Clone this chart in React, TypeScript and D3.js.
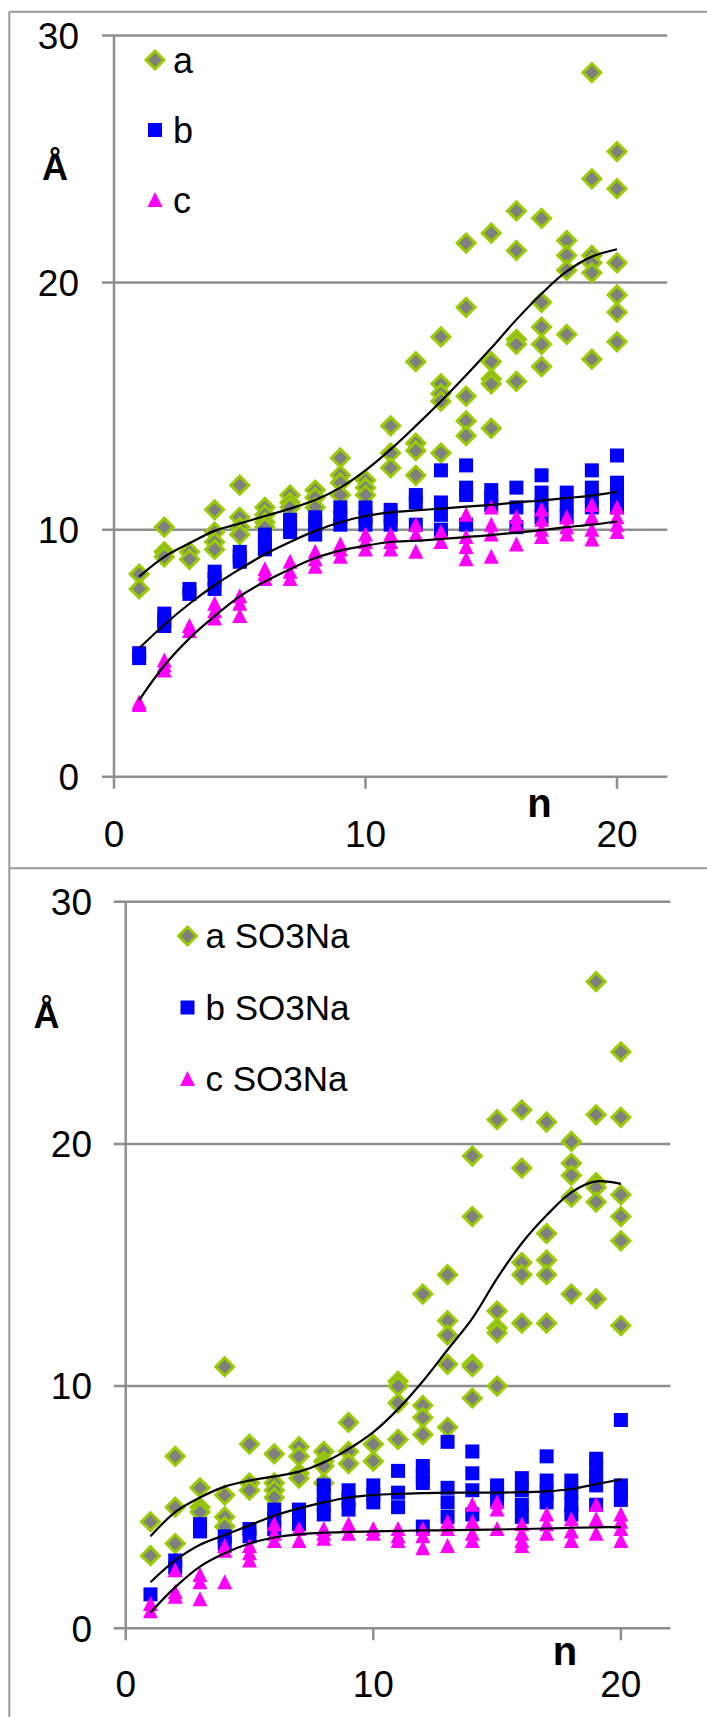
import React from 'react';
import * as d3 from 'd3';

// n = 1..20 (chain length)
const nValues = [1, 2, 3, 4, 5, 6, 7, 8, 9, 10, 11, 12, 13, 14, 15, 16, 17, 18, 19, 20];
const yTicks = [0, 10, 20, 30];
const xTicks = [0, 10, 20];

// top panel: a, b, c (several values per n)
const topA = [
  [8.2, 7.6], [10.1, 9.1, 8.9], [9.1, 8.8], [10.8, 9.9, 9.5, 9.2], [11.8, 10.5, 10.1, 9.8],
  [10.9, 10.6, 10.3, 10.1], [11.4, 11.1, 10.9], [11.6, 11.3, 10.9], [12.9, 12.2, 11.9, 11.4], [12.0, 11.7, 11.4],
  [14.2, 13.1, 12.5], [16.8, 13.5, 13.2, 12.2], [17.8, 15.9, 15.5, 15.2, 13.1], [21.6, 19.0, 15.4, 14.4, 13.8], [22.0, 16.8, 16.1, 15.9, 14.1],
  [22.9, 21.3, 17.7, 17.5, 16.0], [22.6, 19.2, 18.2, 17.5, 16.6], [21.7, 21.1, 20.5, 17.9], [28.5, 24.2, 21.1, 20.8, 20.4, 16.9], [25.3, 23.8, 20.8, 19.5, 18.8, 17.6],
];
const topB = [
  [5.0, 4.8], [6.6, 6.3, 6.1], [7.6, 7.4], [8.3, 8.0, 7.6], [9.1, 8.9, 8.7],
  [9.8, 9.5, 9.2], [10.4, 10.1, 9.9], [10.5, 10.2, 9.8], [10.9, 10.5, 10.2], [10.9, 10.5, 10.2],
  [10.8, 10.5, 10.2], [11.4, 11.1, 10.2], [12.4, 11.1, 10.6, 10.0], [12.6, 11.7, 11.4, 10.2], [11.6, 11.3, 11.0],
  [11.7, 10.9, 10.1], [12.2, 11.5, 11.0, 10.5], [11.5, 11.0, 10.5], [12.4, 11.7, 11.3, 10.9], [13.0, 11.9, 11.4, 10.9],
];
const topC = [
  [3.0, 2.9], [4.7, 4.5, 4.3], [6.1, 5.9], [7.0, 6.7, 6.4], [7.3, 7.0, 6.5],
  [8.4, 8.2, 8.0], [8.7, 8.3, 8.0], [9.1, 8.8, 8.5], [9.4, 9.2, 8.9], [9.8, 9.5, 9.2],
  [9.8, 9.5, 9.2], [10.2, 9.8, 9.1], [9.9, 9.5], [10.6, 9.7, 9.3, 8.8], [10.9, 10.2, 9.8, 8.9],
  [10.5, 10.2, 9.4], [10.8, 10.4, 10.0, 9.7], [10.5, 10.1, 9.8], [11.0, 10.5, 10.0, 9.6], [10.9, 10.5, 10.2, 9.9],
];
const topTrendA = [8.1, 8.9, 9.45, 9.95, 10.25, 10.55, 10.85, 11.2, 11.7, 12.4, 13.25, 14.2, 15.2, 16.25, 17.35, 18.5, 19.55, 20.45, 21.05, 21.35];
const topTrendB = [5.2, 6.15, 7.0, 7.75, 8.4, 9.0, 9.5, 9.95, 10.3, 10.55, 10.7, 10.78, 10.85, 10.93, 11.0, 11.1, 11.18, 11.28, 11.38, 11.53];
const topTrendC = [3.1, 4.5, 5.6, 6.5, 7.3, 7.9, 8.4, 8.85, 9.15, 9.35, 9.5, 9.55, 9.62, 9.7, 9.78, 9.88, 9.98, 10.1, 10.2, 10.33];

// bottom panel: a, b, c SO3Na
const botA = [
  [4.4, 3.0], [7.1, 5.0, 3.5], [5.8, 5.0, 4.8], [10.8, 5.5, 4.6, 4.2], [7.6, 6.0, 5.7],
  [7.2, 6.0, 5.7, 5.4], [7.5, 7.1, 6.4, 6.2], [7.3, 6.9, 6.7, 6.0], [8.5, 7.3, 6.8], [7.6, 6.9],
  [10.2, 10.0, 9.3, 7.8], [13.8, 9.2, 8.7, 8.0], [14.6, 12.7, 12.1, 10.9, 8.3], [19.5, 17.0, 10.9, 10.8, 9.5], [21.0, 13.1, 12.4, 12.2, 10.0],
  [21.4, 19.0, 15.1, 14.6, 12.6], [20.9, 16.3, 15.2, 14.6, 12.6], [20.1, 19.2, 18.7, 17.8, 13.8], [26.7, 21.2, 18.4, 18.2, 17.6, 13.6], [23.8, 21.1, 17.9, 17.0, 16.0, 12.5],
];
const botB = [
  [1.4], [2.8, 2.5], [4.3, 4.0], [3.8, 3.5], [4.1, 3.8],
  [4.9, 4.5, 4.1], [4.9, 4.6, 4.3], [5.9, 5.5, 5.1, 4.7], [5.7, 5.3, 4.9], [5.9, 5.5, 5.2],
  [6.5, 5.6, 5.0], [6.7, 6.3, 6.0, 4.2], [7.7, 5.8, 5.2, 4.6], [7.3, 6.4, 5.7, 4.7], [5.9, 5.6, 5.3],
  [6.2, 5.7, 5.1, 4.6], [7.1, 6.1, 5.6, 5.2], [6.1, 5.6, 5.1, 4.7], [7.0, 6.6, 6.2, 5.9, 5.1], [8.6, 5.9, 5.6, 5.3],
];
const botC = [
  [1.0, 0.7], [2.4, 1.5, 1.3], [2.2, 1.9, 1.2], [3.4, 3.2, 1.9], [3.4, 3.1, 2.8],
  [4.3, 3.9, 3.6], [4.1, 3.6], [4.1, 3.9, 3.7], [4.3, 3.9], [4.1, 3.9],
  [4.1, 3.8, 3.6], [4.1, 3.8, 3.3], [4.4, 4.1, 3.4], [5.1, 4.4, 3.9, 3.6], [5.2, 4.9, 4.1],
  [4.3, 3.9, 3.6, 3.4], [4.7, 4.3, 3.9], [4.5, 4.0, 3.6], [5.1, 4.5, 3.9], [4.7, 4.4, 4.1, 3.6],
];
const botTrendA = [3.8, 4.8, 5.4, 5.85, 6.1, 6.27, 6.47, 6.85, 7.4, 8.1, 9.05, 10.2, 11.5, 12.8, 14.45, 15.9, 17.05, 18.0, 18.45, 18.35];
const botTrendB = [1.9, 2.8, 3.45, 3.85, 4.25, 4.65, 4.95, 5.2, 5.4, 5.5, 5.55, 5.58, 5.6, 5.6, 5.6, 5.62, 5.65, 5.75, 5.95, 6.15];
const botTrendC = [0.65, 1.7, 2.55, 3.1, 3.5, 3.75, 3.88, 3.95, 3.98, 4.0, 4.02, 4.04, 4.05, 4.06, 4.08, 4.1, 4.12, 4.15, 4.17, 4.18];

const topLegend = ['a', 'b', 'c'];
const botLegend = ['a SO3Na', 'b SO3Na', 'c SO3Na'];

const FONT = 'Liberation Sans, Arial, sans-serif';
const GRID = '#8e8e8e';

// marker shapes centred on 0,0
const diamondPath = 'M0,-9L9,0L0,9L-9,0Z';
const squarePath = 'M-7,-7H7V7H-7Z';
const trianglePath = 'M0,-8L7.5,7H-7.5Z';

const Marker = ({ kind, x, y }: { kind: number; x: number; y: number }) => {
  if (kind === 0)
    return <path d={diamondPath} transform={`translate(${x},${y})`} fill="#808080" stroke="#99cc00" strokeWidth={3} />;
  if (kind === 1) return <path d={squarePath} transform={`translate(${x},${y})`} fill="#0000ff" />;
  return <path d={trianglePath} transform={`translate(${x},${y})`} fill="#ff00ff" />;
};

type PanelProps = {
  series: number[][][];
  trends: number[][];
  legend: string[];
  left: number; right: number; top: number; bottom: number;
  yLabelX: number; xLabelY: number;
  unitX: number; unitY: number;
  nX: number; nY: number;
  legX: number; legY: number; legStep: number; legFont: number;
};

const Panel = (p: PanelProps) => {
  const x = d3.scaleLinear().domain([0, 22]).range([p.left, p.right]);
  const y = d3.scaleLinear().domain([0, 30]).range([p.bottom, p.top]);
  const line = d3.line<number>()
    .x((_, i) => x(nValues[i]))
    .y(d => y(d))
    .curve(d3.curveCatmullRom.alpha(0.5));

  return (
    <g fontFamily={FONT}>
      {yTicks.map(t => (
        <g key={'y' + t}>
          <line x1={p.left - 12} x2={p.right} y1={y(t)} y2={y(t)} stroke={GRID} strokeWidth={2.5} />
          <text x={p.yLabelX} y={y(t)} dy="0.36em" textAnchor="end" fontSize={37}>{t}</text>
        </g>
      ))}
      <line x1={p.left} x2={p.left} y1={p.top} y2={p.bottom} stroke={GRID} strokeWidth={2.5} />
      {xTicks.map(t => (
        <g key={'x' + t}>
          <line x1={x(t)} x2={x(t)} y1={p.bottom} y2={p.bottom + 12} stroke={GRID} strokeWidth={2.5} />
          <text x={x(t)} y={p.xLabelY} textAnchor="middle" fontSize={37}>{t}</text>
        </g>
      ))}
      {p.series.map((s, k) => (
        <g key={'s' + k}>
          {s.flatMap((vals, i) => vals.map((v, j) => (
            <Marker key={i + '-' + j} kind={k} x={x(nValues[i])} y={y(v)} />
          )))}
        </g>
      ))}
      {p.trends.map((tr, k) => (
        <path key={'t' + k} d={line(tr) || ''} fill="none" stroke="#000" strokeWidth={2.2} />
      ))}
      {p.legend.map((lab, k) => (
        <g key={'l' + k}>
          <Marker kind={k} x={p.legX} y={p.legY + k * p.legStep} />
          <text x={p.legX + 18} y={p.legY + k * p.legStep} dy="0.35em" fontSize={p.legFont}>{lab}</text>
        </g>
      ))}
      <text x={p.unitX} y={p.unitY} textAnchor="middle" fontSize={36} fontWeight="bold">Å</text>
      <text x={p.nX} y={p.nY} textAnchor="middle" fontSize={40} fontWeight="bold">n</text>
    </g>
  );
};

export default function App() {
  return (
    <svg width={707} height={1717} style={{ position: 'absolute', left: 0, top: 0, background: '#fff' }}>
      <rect width={707} height={1717} fill="#fff" />
      <line x1={9.3} x2={9.3} y1={11.7} y2={1717} stroke="#999" strokeWidth={2} />
      <line x1={9.3} x2={707} y1={11.7} y2={11.7} stroke="#999" strokeWidth={2} />
      <line x1={9.3} x2={707} y1={868.3} y2={868.3} stroke="#999" strokeWidth={2} />
      <Panel
        series={[topA, topB, topC]}
        trends={[topTrendA, topTrendB, topTrendC]}
        legend={topLegend}
        left={114} right={667.3} top={35.5} bottom={776.7}
        yLabelX={79} xLabelY={847}
        unitX={55} unitY={180} nX={539.5} nY={817}
        legX={155} legY={60} legStep={70} legFont={36}
      />
      <Panel
        series={[botA, botB, botC]}
        trends={[botTrendA, botTrendB, botTrendC]}
        legend={botLegend}
        left={125.7} right={670.4} top={901.7} bottom={1628.3}
        yLabelX={92} xLabelY={1697}
        unitX={46.5} unitY={1028} nX={565} nY={1665}
        legX={187.5} legY={936} legStep={71.5} legFont={35}
      />
    </svg>
  );
}
